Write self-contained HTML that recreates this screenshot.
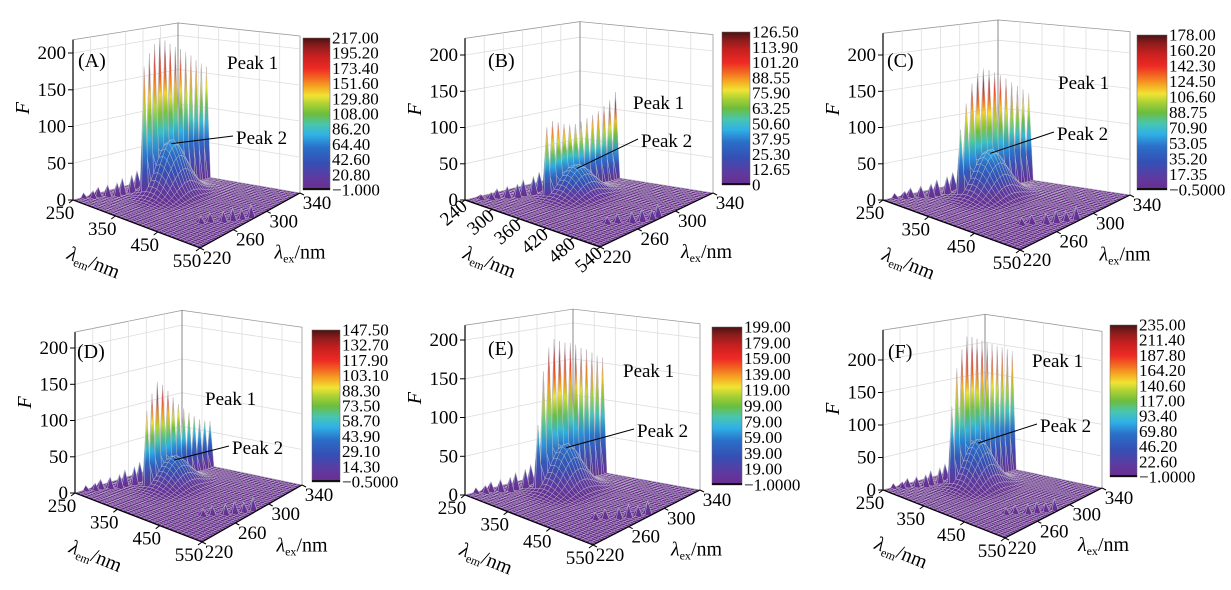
<!DOCTYPE html>
<html><head><meta charset="utf-8">
<style>
html,body{margin:0;padding:0;background:#fff;}
svg{display:block;font-family:"Liberation Serif","DejaVu Serif",serif;}
</style></head>
<body>
<svg id="fig" xmlns="http://www.w3.org/2000/svg" width="1231" height="590" viewBox="0 0 1231 590"></svg>
<script>
// ---------- data ----------
const panelLetters = ['A','B','C','D','E','F'];
const cbarMin = [-1, 0, -0.5, -0.5, -1, -1];
const cbarMax = [217, 126.5, 178, 147.5, 199, 235];
const cbarLabelsA = ['217.00','195.20','173.40','151.60','129.80','108.00','86.20','64.40','42.60','20.80','\u22121.000'];
const cbarLabelsB = ['126.50','113.90','101.20','88.55','75.90','63.25','50.60','37.95','25.30','12.65','0'];
const cbarLabelsC = ['178.00','160.20','142.30','124.50','106.60','88.75','70.90','53.05','35.20','17.35','\u22120.5000'];
const cbarLabelsD = ['147.50','132.70','117.90','103.10','88.30','73.50','58.70','43.90','29.10','14.30','\u22120.5000'];
const cbarLabelsE = ['199.00','179.00','159.00','139.00','119.00','99.00','79.00','59.00','39.00','19.00','\u22121.0000'];
const cbarLabelsF = ['235.00','211.40','187.80','164.20','140.60','117.00','93.40','69.80','46.20','22.60','\u22121.0000'];
const cbarLabels = [cbarLabelsA,cbarLabelsB,cbarLabelsC,cbarLabelsD,cbarLabelsE,cbarLabelsF];
const peak1Height = [215, 125, 176, 146, 197, 232];
const peak2Height = [75, 42, 65, 40, 60, 72];
const spikeProfileA = [0.84,0.92,0.97,1.0,0.98,0.95,0.92,0.9,0.87,0.84,0.8,0.77,0.74];
const spikeProfileB = [0.8,0.85,0.82,0.78,0.76,0.75,0.76,0.78,0.8,0.83,0.87,0.92,1.0];
const spikeProfileC = [0.55,0.75,0.9,0.97,1.0,0.98,0.95,0.92,0.88,0.84,0.8,0.76,0.72];
const spikeProfileD = [0.75,0.9,1.0,0.95,0.88,0.8,0.72,0.66,0.6,0.55,0.5,0.47,0.45];
const spikeProfileE = [0.45,0.8,0.95,1.0,0.98,0.96,0.95,0.93,0.9,0.88,0.85,0.82,0.8];
const spikeProfileF = [0.55,0.8,0.92,1.0,0.99,0.97,0.95,0.93,0.91,0.89,0.87,0.85,0.83];
const spikeProfiles = [spikeProfileA,spikeProfileB,spikeProfileC,spikeProfileD,spikeProfileE,spikeProfileF];
const scatter1Heights = [6,9,12,15,18,22,26,30];
const scatter2Heights = [8,11,13,15,12,16];
const emTicksStd = [250,350,450,550];
const emTicksB = [240,300,360,420,480,540];
const exTicks = [220,260,300,340];
const fTicks = [0,50,100,150,200];

// ---------- layout (not data) ----------
const P = [
 {L:[73,200],Fr:[200,248],R:[300,193],B:[178,172],s:.735,top:218,cb:[303,38,27,152],p1:[227,69],p2:[236,144],lab:[78,67],emMin:250},
 {L:[465,200],Fr:[600,247],R:[713,193],B:[580,172],s:.725,top:223,cb:[722,32,28,153],p1:[633,109],p2:[641,147],lab:[488,67],emMin:240},
 {L:[883,200],Fr:[1020,250],R:[1130,195],B:[998,175],s:.725,top:230,cb:[1137,35,30,155],p1:[1058,89],p2:[1057,140],lab:[887,67],emMin:250},
 {L:[75,493],Fr:[202,542],R:[302,485],B:[182,460],s:.725,top:222,cb:[312,330,28,152],p1:[205,405],p2:[232,454],lab:[77,358],emMin:250},
 {L:[465,495],Fr:[593,545],R:[700,490],B:[573,467],s:.775,top:219,cb:[712,327,30,158],p1:[623,377],p2:[637,437],lab:[488,355],emMin:250},
 {L:[883,490],Fr:[1005,538],R:[1102,488],B:[985,463],s:.65,top:246,cb:[1110,325,27,152],p1:[1032,367],p2:[1040,432],lab:[888,358],emMin:250}
];

const CMAP = [[0,'#6a2d8f'],[0.08,'#5e3aa0'],[0.18,'#3550b5'],[0.28,'#2a6fc8'],[0.36,'#2fb0e6'],[0.43,'#48c6b0'],[0.5,'#6cbd3d'],[0.56,'#a6cf35'],[0.62,'#f0e433'],[0.68,'#f6a623'],[0.74,'#f26522'],[0.8,'#ee2a24'],[0.88,'#c8201f'],[0.95,'#8a1c1c'],[1,'#4a1212']];
function hex2(h){return [parseInt(h.substr(1,2),16),parseInt(h.substr(3,2),16),parseInt(h.substr(5,2),16)];}
function cmap(t){
  t=Math.max(0,Math.min(1,t));
  for(let k=1;k<CMAP.length;k++){
    if(t<=CMAP[k][0]){
      const a=CMAP[k-1],b=CMAP[k],f=(t-a[0])/(b[0]-a[0]);
      const A=hex2(a[1]),Bc=hex2(b[1]);
      return 'rgb('+A.map((c,i)=>Math.round(c+(Bc[i]-c)*f)).join(',')+')';
    }
  }
  return CMAP[CMAP.length-1][1];
}
const NS='http://www.w3.org/2000/svg';
const svg=document.getElementById('fig');
const defs=document.createElementNS(NS,'defs');
svg.appendChild(defs);
function mk(tag,attrs,parent){const e=document.createElementNS(NS,tag);for(const k in attrs)e.setAttribute(k,attrs[k]);(parent||svg).appendChild(e);return e;}
let gid=0;

function drawPanel(pi){
  const p=P[pi];
  const emMin=p.emMin, emMax=emMin+300;
  const g=mk('g',{});
  
  
  const proj=(em,ex,F)=>{
    const u=(em-emMin)/300, v=(ex-220)/120;
    const w=[(1-u)*(1-v),u*(1-v),u*v,(1-u)*v];
    const x=w[0]*p.L[0]+w[1]*p.Fr[0]+w[2]*p.R[0]+w[3]*p.B[0];
    let y=w[0]*p.L[1]+w[1]*p.Fr[1]+w[2]*p.R[1]+w[3]*p.B[1];
    const fac=1+0.05*u-0.07*v;
    y-=Math.max(F,0)*p.s*fac;
    return [x,y];
  };
  const line=(a,b,st,sw,parent,name)=>{
    const l=mk('line',{x1:a[0].toFixed(1),y1:a[1].toFixed(1),x2:b[0].toFixed(1),y2:b[1].toFixed(1),stroke:st,'stroke-width':sw},parent);
    
    
    return l;
  };
  const wl=mk('polygon',{points:[proj(emMin,220,0),proj(emMin,340,0),proj(emMin,340,p.top),proj(emMin,220,p.top)].map(q=>q.join(',')).join(' '),fill:'#fff',stroke:'#999','stroke-width':0.8},g);
  
  
  const wr=mk('polygon',{points:[proj(emMin,340,0),proj(emMax,340,0),proj(emMax,340,p.top),proj(emMin,340,p.top)].map(q=>q.join(',')).join(' '),fill:'#fff',stroke:'#999','stroke-width':0.8},g);
  
  
  for(let ex=240;ex<340;ex+=20) line(proj(emMin,ex,0),proj(emMin,ex,p.top),'#ddd',0.8,g,'wall-gridline');
  for(let em=emMin+50;em<emMax;em+=50) line(proj(em,340,0),proj(em,340,p.top),'#ddd',0.8,g,'wall-gridline');
  for(const f of fTicks.slice(1)){
    line(proj(emMin,220,f),proj(emMin,340,f),'#ddd',0.8,g,'wall-gridline');
    line(proj(emMin,340,f),proj(emMax,340,f),'#ddd',0.8,g,'wall-gridline');
  }
  line(proj(emMin,340,0),proj(emMin,340,p.top),'#888',1,g,'back-vertical-edge');

  const nEm=31,nEx=41;
  const Z=[];
  const prof=spikeProfiles[pi];
  for(let i=0;i<nEm;i++){Z.push([]);for(let j=0;j<nEx;j++){
    const em=emMin+10*i, ex=220+3*j;
    Z[i].push(peak2Height[pi]*Math.exp(-0.5*((em-340)/26)**2-0.5*((ex-290)/13)**2));
  }}
  const ri=Math.round((320-emMin)/10);
  for(let k=0;k<25;k++){
    const j=16+k;
    let val;
    if(k%2===0) val=peak1Height[pi]*prof[k/2];
    else val=0.3*peak1Height[pi]*(prof[(k-1)/2]+prof[(k+1)/2])/2;
    Z[ri][j]=Math.max(Z[ri][j],val);
  }
  for(let k=0;k<scatter1Heights.length;k++){
    const ex=232+6*k, j=Math.round((ex-220)/3), i=Math.round((ex+20-emMin)/10);
    if(i>=0&&i<nEm) Z[i][j]=Math.max(Z[i][j],scatter1Heights[k]);
  }
  for(let k=0;k<scatter2Heights.length;k++){
    const ex=256+6*k, j=Math.round((ex-220)/3), i=Math.min(nEm-2,Math.round((2*ex-30-emMin)/10));
    Z[i][j]=Math.max(Z[i][j],scatter2Heights[k]);
  }
  const cmin=cbarMin[pi], crange=cbarMax[pi]-cbarMin[pi];
  const tOf=z=>(z-cmin)/crange;
  const quads=[];
  for(let i=0;i<nEm-1;i++)for(let j=0;j<nEx-1;j++)quads.push([i,j,i/30+(40-j)/40]);
  quads.sort((a,b)=>a[2]-b[2]);
  const sg=mk('g',{},g);
  
  
  for(const [i,j] of quads){
    const c=[[i,j],[i+1,j],[i+1,j+1],[i,j+1]];
    const zs=c.map(q=>Z[q[0]][q[1]]);
    const pts=c.map(q=>proj(emMin+10*q[0],220+3*q[1],Z[q[0]][q[1]]));
    const zmin=Math.min(...zs),zmax=Math.max(...zs);
    let fill;
    if(zmax-zmin<0.06*crange){fill=cmap(tOf((zs[0]+zs[1]+zs[2]+zs[3])/4));}
    else{
      const id='gr'+(gid++);
      const lg=mk('linearGradient',{id:id,x1:0,y1:1,x2:0,y2:0},defs);
      for(let s=0;s<=6;s++){mk('stop',{offset:(s/6).toFixed(3),'stop-color':cmap(tOf(zmin+(zmax-zmin)*s/6))},lg);}
      fill='url(#'+id+')';
    }
    const pg=mk('polygon',{points:pts.map(q=>q[0].toFixed(1)+','+q[1].toFixed(1)).join(' '),fill:fill,stroke:'rgba(195,195,200,0.75)','stroke-width':0.5,'stroke-linejoin':'round'},sg);
    
    
  }

  line(proj(emMin,220,0),proj(emMax,220,0),'#000',1.2,g,'em-axis-line');
  line(proj(emMax,220,0),proj(emMax,340,0),'#000',1.2,g,'ex-axis-line');
  line(proj(emMin,220,0),proj(emMin,220,p.top),'#000',1.2,g,'f-axis-line');
  const txt=(x,y,s,attrs,name)=>{
    const t=mk('text',Object.assign({x:x.toFixed(1),y:y.toFixed(1)},attrs),g);
    t.textContent=s;
    
    
    return t;
  };
  for(const f of fTicks){
    const q=proj(emMin,220,f);
    line(q,[q[0]-5,q[1]],'#000',1,g,'f-tick');
    txt(q[0]-7,q[1]+6,String(f),{'font-size':19,'text-anchor':'end'},'f-tick-label');
  }
  const emTicks = pi===1?emTicksB:emTicksStd;
  for(const em of emTicks){
    const q=proj(em,220,0);
    line(q,[q[0]-4,q[1]+3],'#000',1,g,'em-tick');
    if(pi===1){
      const t=txt(q[0]-12,q[1]+19,String(em),{'font-size':19,'text-anchor':'middle'},'em-tick-label');
      t.setAttribute('transform','rotate(-40 '+(q[0]-12).toFixed(1)+' '+(q[1]+12).toFixed(1)+')');
    } else txt(q[0]-13,q[1]+19,String(em),{'font-size':19,'text-anchor':'middle'},'em-tick-label');
  }
  for(const ex of exTicks){
    const q=proj(emMax,ex,0);
    line(q,[q[0]+4,q[1]+2],'#000',1,g,'ex-tick');
    txt(q[0]+17,q[1]+16,String(ex),{'font-size':19,'text-anchor':'middle'},'ex-tick-label');
  }
  const mEm=proj(emMin+150,220,0), mEx=proj(emMax,280,0);
  const te=mk('text',{x:(mEm[0]-43).toFixed(1),y:(mEm[1]+45).toFixed(1),'font-size':20,'text-anchor':'middle',transform:'rotate(22 '+(mEm[0]-43).toFixed(1)+' '+(mEm[1]+39).toFixed(1)+')'},g);
  
  
  te.innerHTML='<tspan font-style="italic">λ</tspan><tspan font-size="12" dy="4">em</tspan><tspan dy="-4">/nm</tspan>';
  const tx=mk('text',{x:(mEx[0]+50).toFixed(1),y:(mEx[1]+38).toFixed(1),'font-size':20,'text-anchor':'middle'},g);
  
  
  tx.innerHTML='<tspan font-style="italic">λ</tspan><tspan font-size="12" dy="4">ex</tspan><tspan dy="-4">/nm</tspan>';
  const fq=proj(emMin,220,125);
  txt(p.L[0]-50,fq[1]+6,'F',{'font-size':20,'font-style':'italic','text-anchor':'middle',transform:'rotate(-90 '+(p.L[0]-50)+' '+fq[1].toFixed(1)+')'},'f-axis-title');
  txt(p.lab[0],p.lab[1],'('+panelLetters[pi]+')',{'font-size':20},'panel-label');
  txt(p.p1[0],p.p1[1],'Peak 1',{'font-size':19},'peak1-label');
  txt(p.p2[0],p.p2[1],'Peak 2',{'font-size':19},'peak2-label');
  const tip=proj(340,290,peak2Height[pi]);
  line([p.p2[0]-3,p.p2[1]-8],[tip[0],tip[1]+4],'#000',1,g,'peak2-leader');

  const cb=p.cb;
  const cid='cbg'+pi;
  const lg=mk('linearGradient',{id:cid,x1:0,y1:1,x2:0,y2:0},defs);
  for(const st of CMAP) mk('stop',{offset:st[0],'stop-color':st[1]},lg);
  const r=mk('rect',{x:cb[0],y:cb[1],width:cb[2],height:cb[3],fill:'url(#'+cid+')',stroke:'#666','stroke-width':0.5},g);
  
  
  const rb=mk('rect',{x:cb[0],y:cb[1]+cb[3]-2,width:cb[2],height:2,fill:'#111'},g);
  
  
  const labs=cbarLabels[pi];
  for(let k=0;k<labs.length;k++){
    const y=cb[1]+cb[3]*k/(labs.length-1);
    txt(cb[0]+cb[2]+2,y+5.5,labs[k],{'font-size':17},'colorbar-label');
  }
}
for(let i=0;i<6;i++) drawPanel(i);
</script>
</body></html>
